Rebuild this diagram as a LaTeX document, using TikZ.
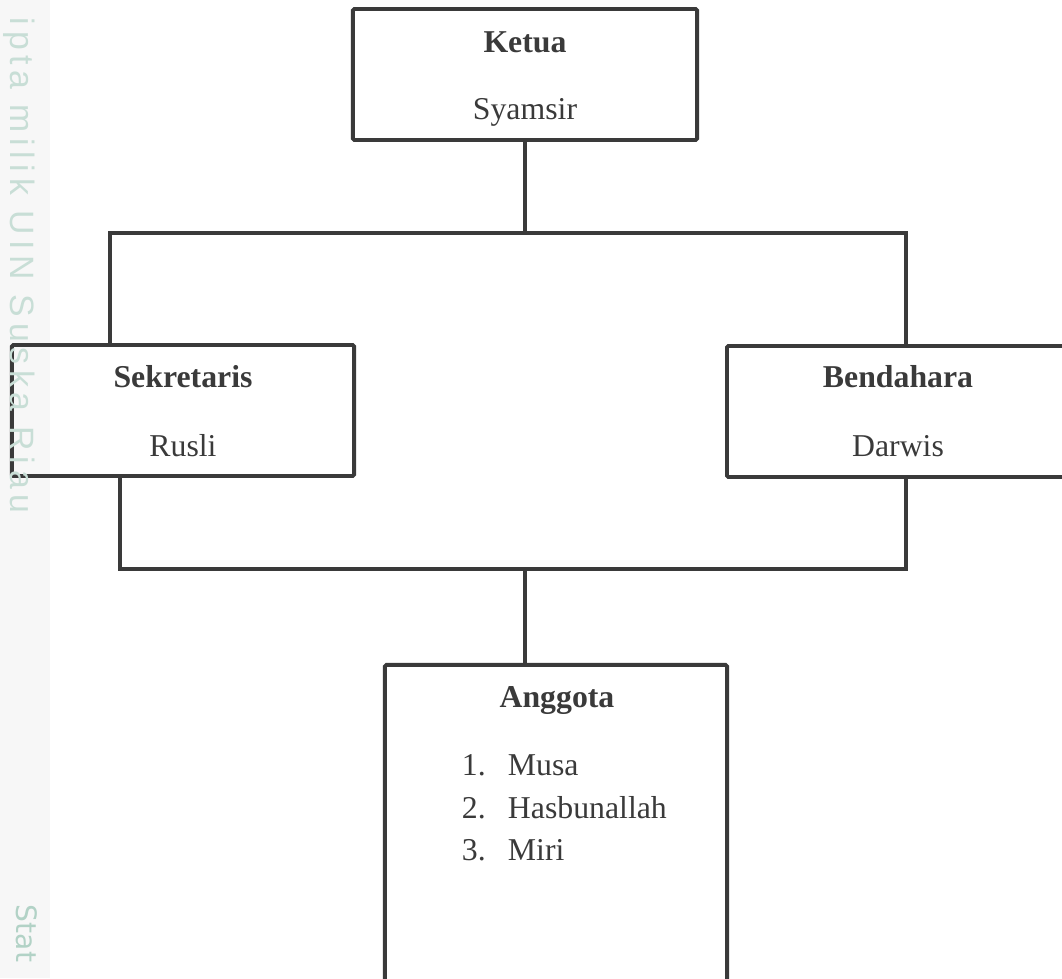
\documentclass[tikz,border=0pt]{standalone}
\usepackage{fontspec}
\setmainfont{Liberation Serif}
\newfontfamily\marginfont{Liberation Sans}[LetterSpace=17]
\newfontfamily\stampfont{DejaVu Sans}
\usepackage{xcolor}
\definecolor{chartgray}{RGB}{58,58,58}
\definecolor{stripgray}{RGB}{247,247,247}
\definecolor{markgreen}{RGB}{200,222,214}
\definecolor{markgreen2}{RGB}{178,210,198}
\usepackage{tikz}
\usetikzlibrary{positioning, calc}

\begin{document}
\begin{tikzpicture}[x=0.025cm, y=-0.025cm,
  orgbox/.style={draw=chartgray, line width=2.8pt, rounded corners=1pt, inner sep=0pt},
  orgline/.style={draw=chartgray, line width=2.8pt},
  roletext/.style={font=\fontsize{22.6}{26}\selectfont\bfseries, text=chartgray, anchor=base},
  nametext/.style={font=\fontsize{22.6}{26}\selectfont, text=chartgray},
  marginmark/.style={font=\marginfont\fontsize{24}{26}\selectfont, text=markgreen, rotate=-90, anchor=base west}]

\useasboundingbox (0,0) rectangle (1062,978);
\clip (0,0) rectangle (1062,978);

% --- margin strip ---
\fill[stripgray] (0,0) rectangle (50,978);

% --- Ketua ---
\node[orgbox, minimum width=8.6cm, minimum height=3.275cm] (ketua) at (525,74.5) {};
\node[roletext] (ketua-title) at (525,53) {Ketua};
\node[nametext, anchor=base] (ketua-name) at (525,120) {Syamsir};

% --- Sekretaris and Bendahara ---
\node[orgbox, minimum width=8.55cm, minimum height=3.275cm] (sekretaris) at (183,410.5) {};
\node[roletext] (sekretaris-title) at (183,387) {Sekretaris};
\node[nametext, anchor=base] (sekretaris-name) at (183,456) {Rusli};

\node[orgbox, minimum width=8.55cm, minimum height=3.275cm] (bendahara) at (898,411.5) {};
\node[roletext] (bendahara-title) at (898,387) {Bendahara};
\node[nametext, anchor=base] (bendahara-name) at (898,456) {Darwis};

% --- Anggota ---
\node[orgbox, minimum width=8.55cm, minimum height=9cm] (anggota) at (556,845) {};
\node[roletext] (anggota-title) at (557,707) {Anggota};
\node[nametext, anchor=base west] (anggota-no1) at (457,775) {1.};
\node[nametext, anchor=base west] (anggota-no2) at (457,818) {2.};
\node[nametext, anchor=base west] (anggota-no3) at (457,860) {3.};
\node[nametext, anchor=base west] (anggota-musa) at (503,775) {Musa};
\node[nametext, anchor=base west] (anggota-hasbunallah) at (503,818) {Hasbunallah};
\node[nametext, anchor=base west] (anggota-miri) at (503,860) {Miri};

% --- connecting lines ---
\coordinate (top-left) at (110,233);
\coordinate (top-right) at (906,233);
\coordinate (bot-left) at (120,569);
\coordinate (bot-right) at (906,569);

\draw[orgline] (ketua.south) -- (ketua.south |- top-left);
\draw[orgline] (top-left |- sekretaris.north) -- (top-left) -- (top-right) -- (top-right |- bendahara.north);
\draw[orgline] (sekretaris.south -| bot-left) -- (bot-left) -- (bot-right) -- (bendahara.south -| bot-right);
\draw[orgline] (bot-left -| ketua.south) -- (anggota.north -| ketua.south);

% --- margin text ---
\node[marginmark] (margin-note) at (10,13) {ipta milik UIN Suska Riau};
\node[marginmark, font=\stampfont\fontsize{20}{24}\selectfont, text=markgreen2] (margin-stat) at (17,900) {Stat};

\end{tikzpicture}
\end{document}
